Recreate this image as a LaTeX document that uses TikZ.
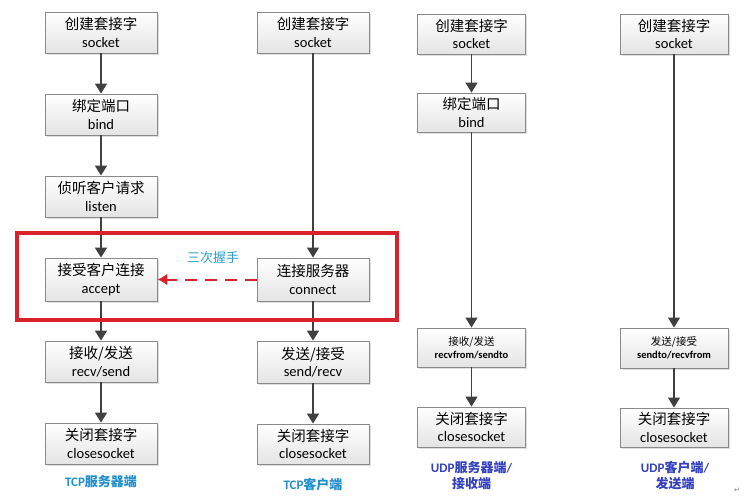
\documentclass[tikz,border=0pt]{standalone}
\usepackage{fontspec}
\setmainfont{Carlito}
\newfontfamily\cjk{Noto Sans CJK SC}
\newfontfamily\djv{DejaVu Sans}
\usetikzlibrary{arrows.meta,shadows,shapes.misc}
\definecolor{boxline}{HTML}{8A8A8A}
\definecolor{boxbot}{HTML}{E4E4E4}
\definecolor{arr}{HTML}{404040}
\definecolor{hsred}{HTML}{D8222C}
\definecolor{tcpblue}{HTML}{2190CC}
\definecolor{udpblue}{HTML}{3340C0}
\definecolor{shakeblue}{HTML}{2A9FD0}
\tikzset{
  stepbox/.style={draw=boxline, line width=0.9pt, top color=white, bottom color=boxbot,
    minimum width=112pt, minimum height=41pt, inner sep=0pt, align=center,
    font=\fontsize{14.5}{17.5}\selectfont,
    drop shadow={shadow xshift=1.5pt, shadow yshift=-1.5pt, opacity=0.25}},
  udpbox/.style={stepbox, minimum width=108pt, minimum height=40pt},
  flow/.style={draw=arr, line width=1.8pt, -{Triangle[width=12pt,length=10pt]}},
  thinflow/.style={flow, line width=1.3pt},
  hsline/.style={color=hsred, line width=2pt, dash pattern=on 12pt off 8pt},
  hstip/.style={color=hsred, line width=2pt, -{Latex[width=12pt,length=10pt]}},
  caption/.style={font=\bfseries\fontsize{13}{16}\selectfont, align=center}
}
\begin{document}
\begin{tikzpicture}[x=1pt,y=-1pt]
\useasboundingbox (0,0) rectangle (744,499);
\fill[white] (0,0) rectangle (744,499);
% column 1 TCP server
\node[stepbox] (s1) at (101,32.5) {{\cjk 创建套接字}\\socket};
\node[stepbox] (b1) at (101,114.5) {{\cjk 绑定端口}\\bind};
\node[stepbox] (l1) at (101,196.5) {{\cjk 侦听客户请求}\\listen};
\node[stepbox, minimum height=43pt] (a1) at (101,279.5) {{\cjk 接受客户连接}\\accept};
\node[stepbox] (r1) at (101,361.5) {{\cjk 接收/发送}\\recv/send};
\node[stepbox] (c1) at (101,443.5) {{\cjk 关闭套接字}\\closesocket};
\draw[flow] (s1) -- (b1);
\draw[flow] (b1) -- (l1);
\draw[flow] (l1) -- (a1);
\draw[flow] (a1) -- (r1);
\draw[flow] (r1) -- (c1);
\node[caption, text=tcpblue] (t1) at (101,482) {TCP{\cjk 服务器端}};
% column 2 TCP client
\node[stepbox] (s2) at (313,32.5) {{\cjk 创建套接字}\\socket};
\node[stepbox, minimum height=43pt] (n2) at (313,279.5) {{\cjk 连接服务器}\\connect};
\node[stepbox, minimum height=42pt] (r2) at (313,362) {{\cjk 发送/接受}\\send/recv};
\node[stepbox, minimum height=40pt] (c2) at (313,444) {{\cjk 关闭套接字}\\closesocket};
\draw[thinflow] (s2) -- (n2);
\draw[flow] (n2) -- (r2);
\draw[flow] (r2) -- (c2);
\node[caption, text=tcpblue] (t2) at (313,485) {TCP{\cjk 客户端}};
% handshake
\draw[draw=hsred, line width=4pt] (17,233) rectangle (397,320);
\node[font=\cjk\fontsize{13}{15}\selectfont, text=shakeblue] (hs) at (213,258) {三次握手};
\coordinate (tipstart) at ([xshift=14pt]a1.east);
\draw[hsline] (n2.west) -- (tipstart);
\draw[hstip] (tipstart) -- (a1.east);
% column 3 UDP server
\node[udpbox] (s3) at (471.5,34) {{\cjk 创建套接字}\\socket};
\node[udpbox, minimum height=39pt] (b3) at (471.5,112.5) {{\cjk 绑定端口}\\bind};
\node[udpbox, minimum height=39pt, font=\fontsize{10.5}{13}\selectfont] (r3) at (471.5,347.5) {{\cjk 接收/发送}\\\textbf{recvfrom/sendto}};
\node[udpbox] (c3) at (471.5,427) {{\cjk 关闭套接字}\\closesocket};
\draw[thinflow] (s3) -- (b3);
\draw[thinflow] (b3) -- (r3);
\draw[thinflow] (r3) -- (c3);
\node[caption, text=udpblue] (t3) at (471.5,476) {UDP{\cjk 服务器端}/\\{\cjk 接收端}};
% column 4 UDP client
\node[udpbox] (s4) at (674,34) {{\cjk 创建套接字}\\socket};
\node[udpbox, font=\fontsize{10.5}{13}\selectfont] (r4) at (674,348) {{\cjk 发送/接受}\\\textbf{sendto/recvfrom}};
\node[udpbox, minimum height=39pt] (c4) at (674,427.5) {{\cjk 关闭套接字}\\closesocket};
\draw[thinflow] (s4) -- (r4);
\draw[thinflow] (r4) -- (c4);
\node[caption, text=udpblue] (t4) at (675,476) {UDP{\cjk 客户端}/\\{\cjk 发送端}};
\node[font=\djv\fontsize{7}{8}\selectfont, text=gray] (pm) at (737,490) {↵};
\end{tikzpicture}
\end{document}
